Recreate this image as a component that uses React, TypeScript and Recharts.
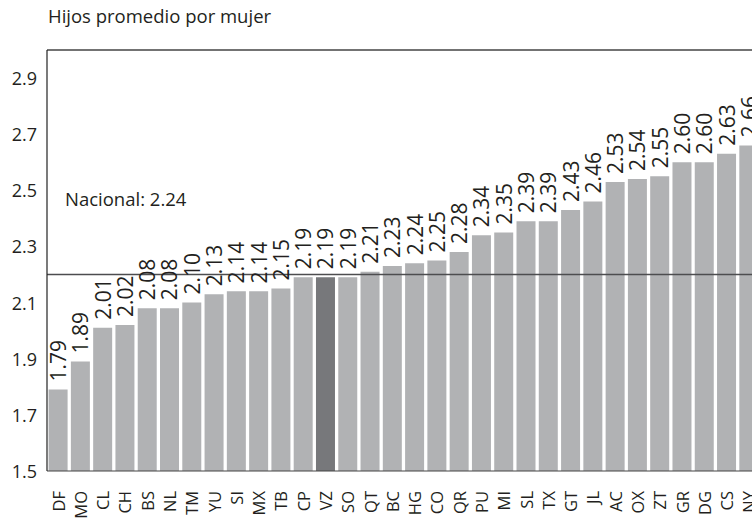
import React from "react";
import { BarChart, Bar, XAxis, YAxis, Cell, LabelList, ReferenceLine } from "recharts";

const states = ["DF","MO","CL","CH","BS","NL","TM","YU","SI","MX","TB","CP","VZ","SO","QT","BC","HG","CO","QR","PU","MI","SL","TX","GT","JL","AC","OX","ZT","GR","DG","CS","NY"];
const values = [1.79,1.89,2.01,2.02,2.08,2.08,2.10,2.13,2.14,2.14,2.15,2.19,2.19,2.19,2.21,2.23,2.24,2.25,2.28,2.34,2.35,2.39,2.39,2.43,2.46,2.53,2.54,2.55,2.60,2.60,2.63,2.66];
const yTicks = [1.5,1.7,1.9,2.1,2.3,2.5,2.7,2.9];
const yDomain = [1.5, 3.0];
const highlighted = "VZ";
const nationalLine = 2.2;
const nationalLabel = "Nacional: 2.24";
const title = "Hijos promedio por mujer";

const data = states.map((s, i) => ({ state: s, value: values[i] }));

const FONT = "'Open Sans', sans-serif";
const TEXT = "#231f20";

const XTick = (props: any) => {
  const { x, y, payload } = props;
  const ty = y + 12;
  return (
    <text x={x} y={ty} transform={`rotate(-90 ${x} ${ty})`} textAnchor="end" dominantBaseline="central" fontSize={16.5} fontFamily={FONT} fill={TEXT}>
      {payload.value}
    </text>
  );
};

const YTick = (props: any) => {
  const { x, y, payload } = props;
  return (
    <text x={x} y={y} textAnchor="end" dominantBaseline="central" fontSize={18} fontFamily={FONT} fill={TEXT}>
      {Number(payload.value).toFixed(1)}
    </text>
  );
};

const ValueLabel = (props: any) => {
  const { x, y, width, value } = props;
  const cx = x + width / 2;
  const ty = y - 8;
  return (
    <text x={cx} y={ty} transform={`rotate(-90 ${cx} ${ty})`} textAnchor="start" dominantBaseline="central" fontSize={21} fontFamily={FONT} fill={TEXT}>
      {Number(value).toFixed(2)}
    </text>
  );
};

const NationalLabel = (props: any) => {
  const vb = props.viewBox || {};
  return (
    <text x={vb.x + 18} y={vb.y - 69} fontSize={18.5} fontFamily={FONT} fill={TEXT}>
      {nationalLabel}
    </text>
  );
};

export default function App() {
  return (
    <div style={{ position: "fixed", left: 0, top: 0, width: 752, height: 518, overflow: "hidden", background: "#fff" }}>
      <div style={{ position: "absolute", left: 48, top: 4, fontFamily: FONT, fontSize: 18.5, color: TEXT, lineHeight: "24px", whiteSpace: "nowrap" }}>
        {title}
      </div>
      <BarChart width={770} height={518} data={data} margin={{ top: 50, right: 10, bottom: 0, left: 0 }} barCategoryGap={1.6}>
        <XAxis dataKey="state" interval={0} height={47} tick={<XTick />} tickLine={false} axisLine={{ stroke: "#444", strokeWidth: 1 }} />
        <YAxis domain={yDomain} ticks={yTicks} allowDataOverflow width={47} tick={<YTick />} tickLine={false} tickMargin={4} axisLine={{ stroke: "#222", strokeWidth: 1.2 }} interval={0} />
        <Bar dataKey="value" isAnimationActive={false}>
          {data.map((d) => (
            <Cell key={d.state} fill={d.state === highlighted ? "#77787b" : "#b1b2b4"} />
          ))}
          <LabelList dataKey="value" content={<ValueLabel />} />
        </Bar>
        <ReferenceLine y={yDomain[1]} stroke="#444" strokeWidth={1.5} />
        <ReferenceLine y={nationalLine} stroke="#4d4d4f" strokeWidth={1.5} label={<NationalLabel />} />
      </BarChart>
    </div>
  );
}
